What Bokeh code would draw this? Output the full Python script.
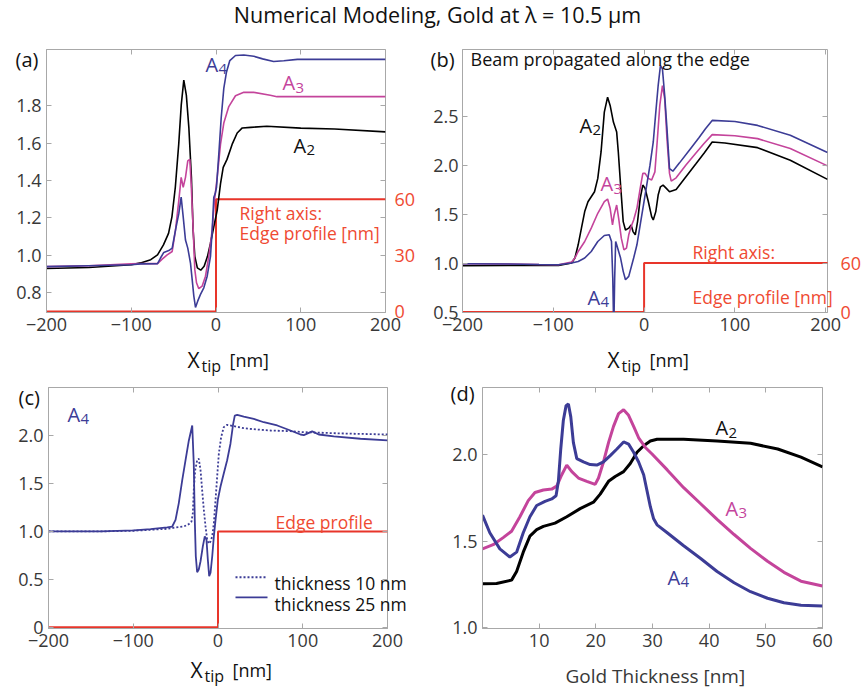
from bokeh.plotting import figure
from bokeh.models import Range1d, LinearAxis, Label, FixedTicker, Spacer, CustomJSTickFormatter
from bokeh.layouts import column, row
from bokeh.embed import file_html
from bokeh.resources import INLINE

# ---------------- data ----------------
TITLE = "Numerical Modeling, Gold at λ = 10.5 μm"
xtips = [-200, -100, 0, 100, 200]

# panel (a)
xa_A2 = [-200,-150,-100,-89,-77,-69,-62,-56,-52,-48,-44,-41,-38,-35,-32,-29,-27,-25,-22,-18,-14,-10,-6.5,-2.6,1.4,5.3,8.5,13,19,25,31,41,60,100,140,200]
ya_A2 = [0.93,0.935,0.95,0.96,0.977,1.003,1.056,1.118,1.206,1.364,1.593,1.804,1.936,1.856,1.681,1.417,1.135,0.995,0.933,0.921,0.942,0.995,1.065,1.153,1.241,1.382,1.47,1.513,1.593,1.654,1.681,1.684,1.69,1.68,1.675,1.66]
xa_A3 = [-200,-150,-100,-89,-69,-63.5,-57.6,-51.7,-47.8,-43.9,-41.1,-38.7,-36,-33.3,-30.9,-29.3,-26.9,-25,-23,-20.3,-16.3,-12.4,-8.5,-4.5,-1.8,1.4,5.3,9.2,15.1,23,32.8,44.6,64,72,100,150,200]
ya_A3 = [0.94,0.945,0.955,0.956,0.956,0.98,1.003,1.021,1.135,1.293,1.417,1.364,1.417,1.505,1.513,1.382,1.135,0.924,0.854,0.822,0.836,0.889,0.995,1.135,1.293,1.417,1.593,1.707,1.795,1.853,1.871,1.871,1.856,1.848,1.848,1.848,1.848]
xa_A4 = [-200,-150,-100,-89,-69,-65.5,-61.6,-55.7,-51.7,-47.8,-43.9,-41.1,-38.7,-36,-33.3,-30.1,-28.1,-26.2,-24.2,-21.5,-18.3,-14.4,-10.4,-6.5,-4.5,-2.6,-1,0.6,3.3,6.1,9.2,12.4,16.3,23,32.8,44.6,55,68,80,96,200]
ya_A4 = [0.94,0.945,0.95,0.955,0.956,0.986,1.016,1.026,1.039,1.135,1.223,1.311,1.206,1.082,1.039,0.959,0.871,0.784,0.722,0.757,0.792,0.827,0.889,0.995,1.135,1.311,1.329,1.364,1.54,1.733,1.892,1.98,2.041,2.068,2.071,2.064,2.05,2.036,2.04,2.047,2.047]
xa_edge = [-200, 0, 0, 200]
ya_edge = [0, 0, 60, 60]          # nm, right axis

# panel (b)
xb_A2 = [-200,-150,-115.7,-94.2,-79.8,-76.2,-72.6,-69,-65.4,-61.8,-58.2,-54.6,-51,-47.4,-43.8,-40.2,-37.4,-33.8,-30.2,-28.4,-25.9,-23,-20.5,-16.9,-14.3,-12.2,-9.7,-7.2,-4.3,-1.4,1.1,4.7,8.3,10.1,12.9,15.5,18,20.9,24.5,28,35.3,46.1,56.9,66,75,89,125,161,202]
yb_A2 = [0.973,0.975,0.975,0.976,1.0,1.051,1.186,1.356,1.525,1.626,1.677,1.728,1.864,2.134,2.541,2.693,2.609,2.439,2.337,2.134,1.796,1.423,1.338,1.356,1.389,1.321,1.288,1.423,1.66,1.796,1.762,1.626,1.474,1.44,1.525,1.694,1.778,1.796,1.762,1.728,1.75,1.88,2.01,2.12,2.236,2.226,2.178,2.05,1.854]
xb_A3 = [-200,-150,-115.7,-94.2,-79.8,-76.2,-72.6,-65.4,-58.2,-51,-43.8,-40.2,-37.4,-34.8,-33,-30.2,-28,-25.1,-22.2,-19.4,-16.9,-14.3,-11.5,-7.9,-4.3,-1.4,1.1,4.7,8.3,11.9,14.4,17.3,20.2,22.7,25.2,28,29.9,35.3,46.1,56.9,66,75,100,125,161,202]
yb_A3 = [0.993,0.99,0.985,0.983,1.01,1.051,1.118,1.22,1.356,1.508,1.626,1.653,1.559,1.389,1.491,1.592,1.457,1.254,1.135,1.152,1.288,1.372,1.44,1.559,1.762,1.915,1.915,1.864,1.847,1.931,2.236,2.609,2.812,2.677,2.27,1.915,1.836,1.87,2.0,2.12,2.22,2.311,2.30,2.27,2.169,1.992]
xb_A4 = [-200,-150,-115.7,-94.2,-79.8,-72.6,-65.4,-58.2,-51,-43.8,-38.4,-35.9,-34.5,-33.4,-32.4,-31.3,-30.2,-25.9,-23,-20.5,-16.9,-11.5,-7.9,-4.3,-0.7,2.9,6.5,10.1,12.9,15.5,18,20.2,22.7,25.2,28,31.7,38.8,49.6,60.4,67.6,75,100,125,161,202]
yb_A4 = [0.993,0.99,0.985,0.983,1.0,1.016,1.051,1.118,1.22,1.281,1.288,1.22,0.848,0.3,0.848,1.22,1.186,1.051,0.915,0.83,0.864,1.051,1.186,1.389,1.592,1.796,1.999,2.236,2.541,2.812,3.015,2.982,2.71,2.372,1.965,1.938,2.02,2.15,2.28,2.37,2.456,2.445,2.405,2.304,2.128]
xb_edge = [-200, 0, 0, 210]
yb_edge = [0, 0, 60, 60]

# panel (c)
xc_25 = [-200,-138.6,-99.3,-79.6,-59.9,-54,-50.1,-46.3,-42.2,-38.3,-34.4,-30.4,-28.6,-27.4,-26.2,-24.6,-22.7,-20.6,-17.9,-15.6,-13.6,-12,-10.4,-8.8,-6.8,-4.9,-2.9,-0.2,2.9,6.8,10.8,14.7,17.9,19.8,22.7,30.4,42.2,54,69.9,85.5,97.3,101.3,111.1,118.9,136.6,168.1,200]
yc_25 = [1.0,1.0,1.01,1.024,1.041,1.051,1.121,1.293,1.535,1.742,1.948,2.104,1.707,1.121,0.741,0.575,0.603,0.689,0.844,0.948,0.914,0.707,0.534,0.569,0.741,0.948,1.121,1.328,1.465,1.604,1.742,1.914,2.121,2.207,2.214,2.197,2.173,2.138,2.104,2.052,2.01,2.004,2.042,2.01,1.99,1.966,1.948]
xc_10 = [-200,-138.6,-99.3,-79.6,-59.9,-50.1,-40.4,-34.4,-31.3,-29.7,-28.6,-26.9,-24.6,-22.7,-20.6,-18.7,-16.7,-14.7,-12.8,-10.8,-8.8,-6.8,-4.9,-2.9,-1,1,3.7,6.8,10.8,18.7,30.4,46.3,61.9,85.5,100,150,200]
yc_10 = [1.0,1.0,1.007,1.017,1.027,1.041,1.051,1.076,1.103,1.19,1.431,1.638,1.742,1.759,1.638,1.431,1.224,1.051,0.914,0.872,0.896,0.948,1.087,1.328,1.569,1.811,1.983,2.087,2.111,2.097,2.076,2.062,2.052,2.045,2.035,2.02,2.01]
xc_edge = [-200, 0, 0, 200]
yc_edge = [0, 0, 1, 1]
legend_c = ["thickness 10 nm", "thickness 25 nm"]

# panel (d)
xd_A2 = [0,2.48,5.13,6.02,7.19,8.37,9.56,10.74,12.8,14.87,17.23,19.58,20.77,22.24,23.42,24.9,26.08,27.27,28.44,29.62,30.81,35.5,41.4,47.3,52.1,56.2,60]
yd_A2 = [1.254,1.256,1.275,1.325,1.437,1.53,1.567,1.586,1.605,1.642,1.689,1.726,1.773,1.847,1.875,1.903,1.95,2.015,2.053,2.08,2.09,2.09,2.08,2.067,2.034,1.987,1.931]
xd_A3 = [0,1.88,3.65,5.13,6.6,8.07,9.26,10.74,12.22,13.1,13.99,14.87,15.76,16.93,18.41,19.88,20.47,21.35,22.24,23.12,24.01,24.9,25.78,26.67,27.55,28.74,29.92,32.6,35.5,38.5,41.4,44.4,47.3,50.3,53.2,56.2,60]
yd_A3 = [1.456,1.48,1.521,1.558,1.642,1.735,1.782,1.797,1.802,1.819,1.885,1.941,1.903,1.866,1.847,1.829,1.866,1.959,2.071,2.165,2.239,2.261,2.229,2.165,2.099,2.043,2.005,1.913,1.81,1.717,1.627,1.539,1.459,1.384,1.32,1.269,1.241]
xd_A4 = [0,1.29,3.06,4.83,6.02,7.19,8.37,9.56,11.03,12.22,12.98,13.39,13.81,14.27,14.75,15.16,15.58,16.04,16.64,17.81,19.0,20.18,21.35,22.54,23.72,24.9,25.78,26.67,27.55,28.44,29.04,29.62,30.2,30.8,32.6,35.5,38.5,41.4,44.4,47.3,50.3,53.2,56.2,60]
yd_A4 = [1.651,1.549,1.456,1.409,1.437,1.549,1.642,1.707,1.731,1.745,1.763,1.847,2.034,2.201,2.285,2.295,2.22,2.071,1.978,1.959,1.944,1.941,1.959,1.996,2.034,2.075,2.062,2.015,1.959,1.885,1.791,1.70,1.63,1.595,1.549,1.474,1.4,1.325,1.26,1.208,1.17,1.144,1.129,1.125]

# ---------------- style ----------------
FONT = "Open Sans"
BLUE = "#3c3c96"
MAG = "#c4449b"
RED = "#e8352a"
REDTXT = "#ef4a32"
FRAME = "#a8a8a8"
TICKTXT = "#383838"
BLACK = "#111111"
FMT1 = "return tick.toFixed(1)"


def make_panel(w, h, borders, xr, yr, xticks, yticks, yfmt=FMT1, ysize="18px", ystand=5):
    l, r, t, b = borders
    p = figure(width=w, height=h, x_range=Range1d(*xr), y_range=Range1d(*yr),
               output_backend="svg", toolbar_location=None,
               min_border_left=l, min_border_right=r, min_border_top=t, min_border_bottom=b)
    p.grid.visible = False
    p.outline_line_color = FRAME
    p.background_fill_color = "white"
    p.border_fill_color = "white"
    p.xaxis.ticker = FixedTicker(ticks=xticks)
    p.yaxis.ticker = FixedTicker(ticks=yticks)
    p.yaxis.formatter = CustomJSTickFormatter(code=yfmt)
    for ax in list(p.xaxis) + list(p.yaxis):
        ax.major_tick_in = 5
        ax.major_tick_out = 0
        ax.minor_tick_line_color = None
        ax.axis_line_color = FRAME
        ax.major_tick_line_color = FRAME
        ax.major_label_text_font = FONT
        ax.major_label_text_font_size = "18px"
        ax.major_label_text_color = TICKTXT
    p.yaxis.major_label_text_font_size = ysize
    p.xaxis.major_label_standoff = 5
    p.yaxis.major_label_standoff = ystand
    # mirrored ticks on top and right
    top = LinearAxis(ticker=FixedTicker(ticks=xticks), major_tick_in=5, major_tick_out=0,
                     minor_tick_line_color=None, axis_line_color=None, major_tick_line_color=FRAME,
                     major_label_text_color=None, major_label_text_font_size="1px", major_label_standoff=0)
    p.add_layout(top, "above")
    rgt = LinearAxis(ticker=FixedTicker(ticks=yticks), major_tick_in=5, major_tick_out=0,
                     minor_tick_line_color=None, axis_line_color=None, major_tick_line_color=FRAME,
                     major_label_text_color=None, major_label_text_font_size="1px", major_label_standoff=0)
    p.add_layout(rgt, "right")
    return p


def red_axis(p, ticks, size, standoff):
    ax = LinearAxis(y_range_name="edge", ticker=FixedTicker(ticks=ticks), major_tick_line_color=None,
                    minor_tick_line_color=None, axis_line_color=None, major_label_text_color=REDTXT,
                    major_label_text_font=FONT, major_label_text_font_size=size,
                    major_label_standoff=standoff)
    p.add_layout(ax, "right")


# ---------------- panel (a) ----------------
XR_A, YR_A = (-200, 200), (0.695, 2.10)
pa = make_panel(430, 332, (46, 45, 9, 60), XR_A, YR_A, xtips, [0.8, 1.0, 1.2, 1.4, 1.6, 1.8])
pa.extra_y_ranges = {"edge": Range1d((YR_A[0] - 0.7) * 100, (YR_A[1] - 0.7) * 100)}
red_axis(pa, [0, 30, 60], "18px", 3)
pa.line(xa_edge, ya_edge, y_range_name="edge", line_color=RED, line_width=2)
pa.line(xa_A2, ya_A2, line_color="black", line_width=1.6)
pa.line(xa_A3, ya_A3, line_color=MAG, line_width=1.6)
pa.line(xa_A4, ya_A4, line_color=BLUE, line_width=1.6)

# ---------------- panel (b) ----------------
XR_B, YR_B = (-200, 202), (0.495, 3.18)
pb = make_panel(434, 332, (31, 30, 9, 60), XR_B, YR_B, xtips, [0.5, 1.0, 1.5, 2.0, 2.5], ystand=4)
pb.extra_y_ranges = {"edge": Range1d((YR_B[0] - 0.5) * 120, (YR_B[1] - 0.5) * 120)}
red_axis(pb, [0, 60], "18px", 7)
pb.line(xb_edge, yb_edge, y_range_name="edge", line_color=RED, line_width=2)
pb.line(xb_A2, yb_A2, line_color="black", line_width=1.6)
pb.line(xb_A3, yb_A3, line_color=MAG, line_width=1.6)
pb.line(xb_A4, yb_A4, line_color=BLUE, line_width=1.6)

# ---------------- panel (c) ----------------
XR_C, YR_C = (-200, 200), (-0.012, 2.5)
pc = make_panel(430, 315, (48, 43, 15, 59), XR_C, YR_C, xtips, [0, 0.5, 1.0, 1.5, 2.0],
                yfmt="return tick == 0 ? '0' : tick.toFixed(1)")
pc.line(xc_edge, yc_edge, line_color=RED, line_width=2)
pc.line(xc_10, yc_10, line_color=BLUE, line_width=1.8, line_dash="2 2")
pc.line(xc_25, yc_25, line_color=BLUE, line_width=1.8)

# ---------------- panel (d) ----------------
XR_D, YR_D = (0, 60), (0.995, 2.39)
pd_ = make_panel(434, 315, (52, 42, 10, 54), XR_D, YR_D, [10, 20, 30, 40, 50, 60], [1.0, 1.5, 2.0])
pd_.line(xd_A2, yd_A2, line_color="black", line_width=3)
pd_.line(xd_A3, yd_A3, line_color=MAG, line_width=3)
pd_.line(xd_A4, yd_A4, line_color=BLUE, line_width=3)

# ---------------- text overlay (page pixel coordinates) ----------------
ov = figure(width=864, height=695, x_range=Range1d(0, 864), y_range=Range1d(687, 0),
            output_backend="svg", toolbar_location=None, min_border=0, title=None,
            x_axis_location=None, y_axis_location=None, margin=(-695, 0, 0, 0))
ov.grid.visible = False
ov.outline_line_color = None
ov.background_fill_color = None
ov.border_fill_color = None


def put(px, py, text, size, color, align="left"):
    ov.add_layout(Label(x=px, y=py, text=text, text_font=FONT, text_font_size=f"{size}px",
                        text_color=color, text_align=align, text_baseline="alphabetic"))


def a_label(px, py, sub, color):
    put(px, py, "A", 20, color)
    put(px + 13, py + 5, sub, 15, color)


def xtip_label(px, py):
    put(px, py, "X", 21, BLACK)
    put(px + 14, py + 6, "tip", 16, BLACK)
    put(px + 42, py, "[nm]", 18, BLACK)


put(437, 22, TITLE, 21.5, BLACK, align="center")

# (a)
put(15, 66, "(a)", 20, BLACK)
a_label(205, 71, "4", BLUE)
a_label(282, 89, "3", MAG)
a_label(293, 151, "2", BLACK)
put(239, 218, "Right axis:", 17.5, REDTXT)
put(239, 238, "Edge profile [nm]", 17.5, REDTXT)
xtip_label(187, 363)

# (b)
put(430, 66, "(b)", 20, BLACK)
put(470, 66, "Beam propagated along the edge", 18, BLACK)
a_label(579, 131, "2", BLACK)
a_label(600, 189, "3", MAG)
a_label(587, 301, "4", BLUE)
put(692, 257, "Right axis:", 17.5, REDTXT)
put(692, 301, "Edge profile [nm]", 17.5, REDTXT)
xtip_label(607, 363)

# (c)
put(18, 400, "(c)", 20, BLACK)
a_label(67, 417, "4", BLUE)
put(275, 523, "Edge profile", 17.5, REDTXT)
ov.line([235, 267], [578, 578], line_color=BLUE, line_width=1.8, line_dash="2 2")
ov.line([235, 267], [598, 598], line_color=BLUE, line_width=1.8)
put(274, 584, legend_c[0], 17.5, BLACK)
put(274, 604, legend_c[1], 17.5, BLACK)
xtip_label(190, 670)

# (d)
put(450, 396, "(d)", 20, BLACK)
a_label(715, 430, "2", BLACK)
a_label(725, 510, "3", MAG)
a_label(667, 578, "4", BLUE)
put(565, 676, "Gold Thickness [nm]", 19, TICKTXT)

layout = column(Spacer(width=864, height=40), row(pa, pb), row(pc, pd_), ov)
open("out.html", "w").write(file_html(layout, INLINE))
